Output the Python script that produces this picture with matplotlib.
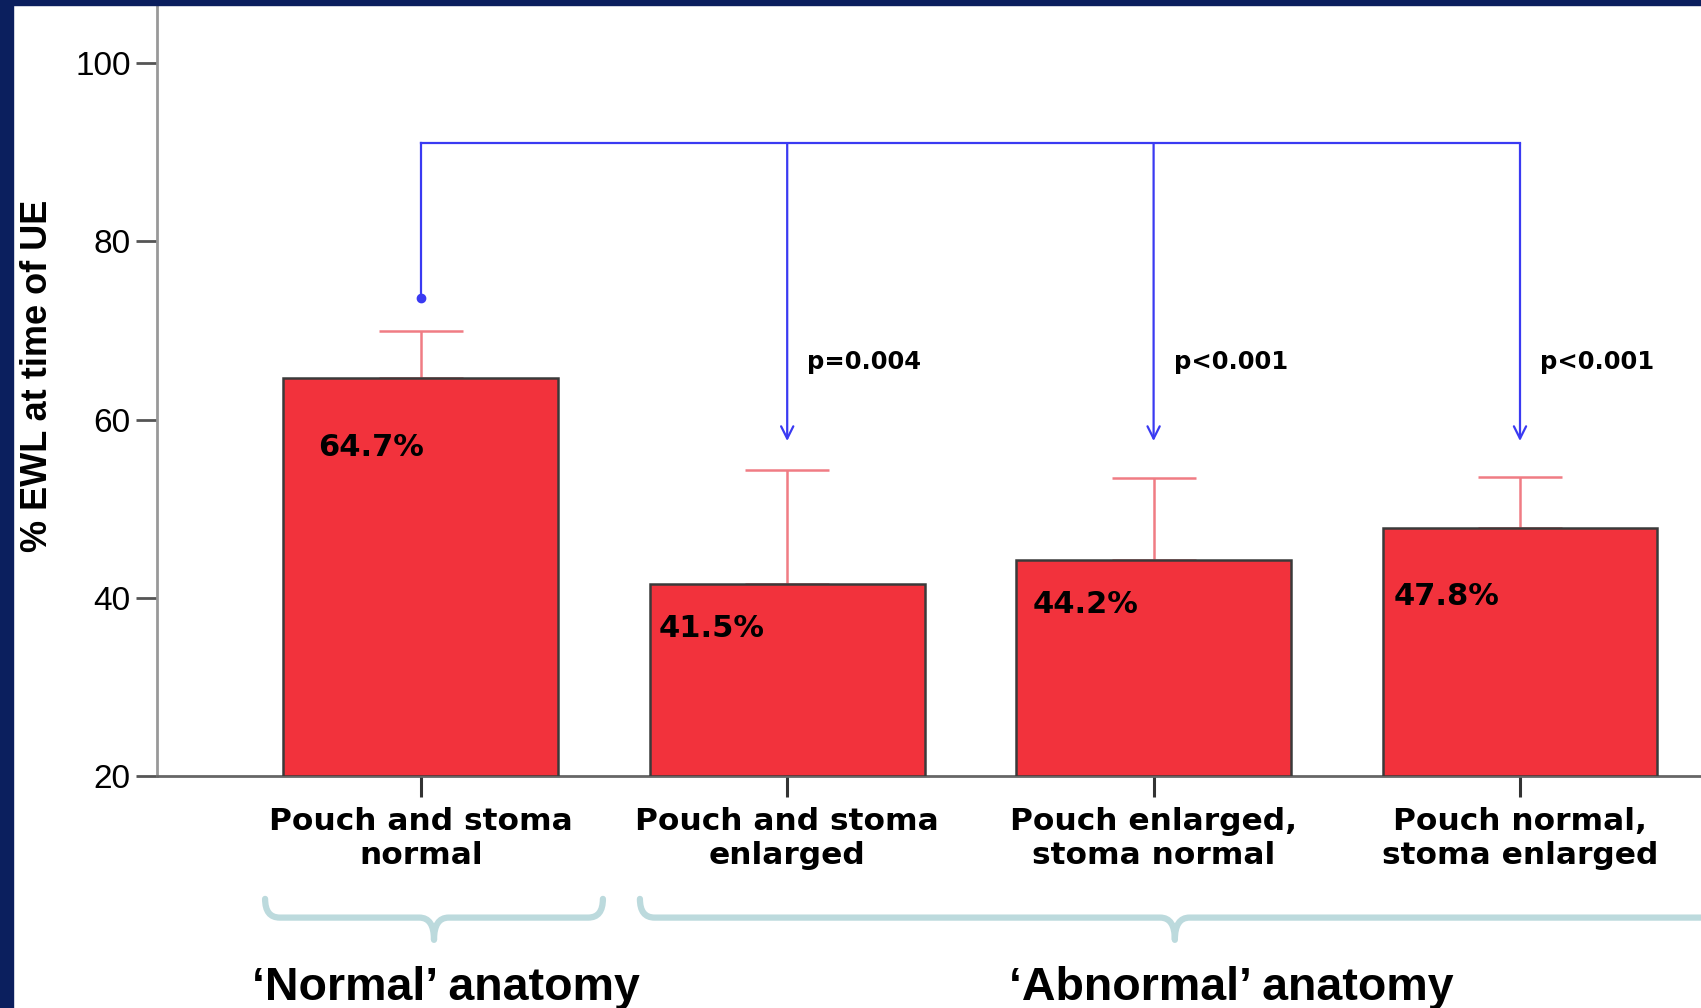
import numpy as np
import matplotlib
matplotlib.use("Agg")
import matplotlib.pyplot as plt
from matplotlib.path import Path
from matplotlib.patches import PathPatch, Rectangle

# datos
categorias = ["Pouch and stoma\nnormal", "Pouch and stoma\nenlarged",
              "Pouch enlarged,\nstoma normal", "Pouch normal,\nstoma enlarged"]
ewl = [64.7, 41.5, 44.2, 47.8]
ewl_sup = [70.0, 54.3, 53.4, 53.6]   # extremo superior del error
etiquetas = ["64.7%", "41.5%", "44.2%", "47.8%"]
p_valores = ["p=0.004", "p<0.001", "p<0.001"]
grupos = ["\u2018Normal\u2019 anatomy", "\u2018Abnormal\u2019 anatomy"]
yticks = [20, 40, 60, 80, 100]

rojo = "#f2323c"
rosa = "#f07c84"
azul = "#3a3af2"
llave = "#bcdadd"
marino = "#0b1f5e"

fig = plt.figure(figsize=(17.01, 10.08), dpi=100)
fig.patch.set_facecolor("white")
ax = fig.add_axes([0.0923, 0.2302, 0.9077, 0.7653])

x = np.arange(len(ewl))
ax.bar(x, np.array(ewl) - 20, bottom=20, width=0.75, color=rojo,
       edgecolor="#3a3a3a", linewidth=1.8, zorder=3)
err = np.array(ewl_sup) - np.array(ewl)
ax.errorbar(x, ewl, yerr=[np.zeros_like(err), err], fmt="none",
            ecolor=rosa, elinewidth=1.8, capsize=30, capthick=1.8, zorder=2)

# etiquetas de valor dentro de las barras
dx_lab = [-0.28, -0.35, -0.33, -0.345]
dy_lab = [7.8, 4.9, 5.0, 7.7]
for i, t in enumerate(etiquetas):
    ax.text(x[i] + dx_lab[i], ewl[i] - dy_lab[i], t, ha="left", va="center",
            fontsize=22, fontweight="bold", family="DejaVu Sans", zorder=4)

# corchete azul de comparaciones
y_top = 91.0
ax.plot([x[0], x[-1]], [y_top, y_top], color=azul, lw=1.6, zorder=4)
ax.plot([x[0], x[0]], [y_top, 73.6], color=azul, lw=1.6, zorder=4)
ax.plot([x[0]], [73.6], "o", color=azul, ms=6, zorder=4)
for i, p in enumerate(p_valores):
    xi = x[i + 1]
    ax.annotate("", xy=(xi, 57.6), xytext=(xi, y_top),
                arrowprops=dict(arrowstyle="->", color=azul, lw=1.6,
                                mutation_scale=22, shrinkA=0, shrinkB=0))
    ax.text(xi + 0.055, 66.5, p, ha="left", va="center", fontsize=17.5,
            fontweight="bold", family="DejaVu Sans")

ax.set_xlim(-0.72, 3.494)
ax.set_ylim(20, 106.6)
ax.set_yticks(yticks)
ax.set_yticklabels([str(v) for v in yticks], fontsize=24, family="Liberation Sans")
ax.set_xticks(x)
ax.set_xticklabels(categorias, fontsize=22.5, fontweight="bold",
                   family="DejaVu Sans", linespacing=1.22)
ax.tick_params(axis="y", length=15, width=2, color="#555555", pad=4)
ax.tick_params(axis="x", length=15, width=2.2, color="#333333", pad=7)
for s in ["top", "right"]:
    ax.spines[s].set_visible(False)
ax.spines["left"].set_color("#999999")
ax.spines["left"].set_linewidth(2)
ax.spines["bottom"].set_color("#666666")
ax.spines["bottom"].set_linewidth(2)
ax.set_ylabel("% EWL at time of UE", fontsize=26, fontweight="bold",
              family="Liberation Sans", labelpad=2)
ax.yaxis.set_label_coords(-0.066, 0.518)


# llaves de agrupacion
def dibujar_llave(x0, x1, xm, y0, y1, y2, r=0.04):
    verts = [(x0, y0), (x0, y1), (x0 + r, y1), (xm - r, y1), (xm, y1), (xm, y2),
             (xm, y1), (xm + r, y1), (x1 - r, y1), (x1, y1), (x1, y0)]
    codes = [Path.MOVETO, Path.CURVE3, Path.CURVE3, Path.LINETO, Path.CURVE3,
             Path.CURVE3, Path.CURVE3, Path.CURVE3, Path.LINETO, Path.CURVE3, Path.CURVE3]
    pp = PathPatch(Path(verts, codes), fill=False, edgecolor=llave, lw=4.5,
                   clip_on=False, capstyle="round", joinstyle="round")
    ax.add_patch(pp)


dibujar_llave(-0.425, 0.497, 0.036, 6.2, 4.1, 1.6)
dibujar_llave(0.598, 3.75, 2.058, 6.2, 4.1, 1.6)

fig.text(0.2624, 0.008, grupos[0], ha="center", va="baseline", fontsize=33.5,
         fontweight="bold", family="Liberation Sans")
fig.text(0.724, 0.008, grupos[1], ha="center", va="baseline", fontsize=33.5,
         fontweight="bold", family="Liberation Sans")

# borde azul marino
fig.patches.append(Rectangle((0, 0), 0.0076, 1, transform=fig.transFigure,
                             color=marino, zorder=10))
fig.patches.append(Rectangle((0, 0.9955), 1, 0.0045, transform=fig.transFigure,
                             color=marino, zorder=10))

fig.savefig("out.png", dpi=100)
